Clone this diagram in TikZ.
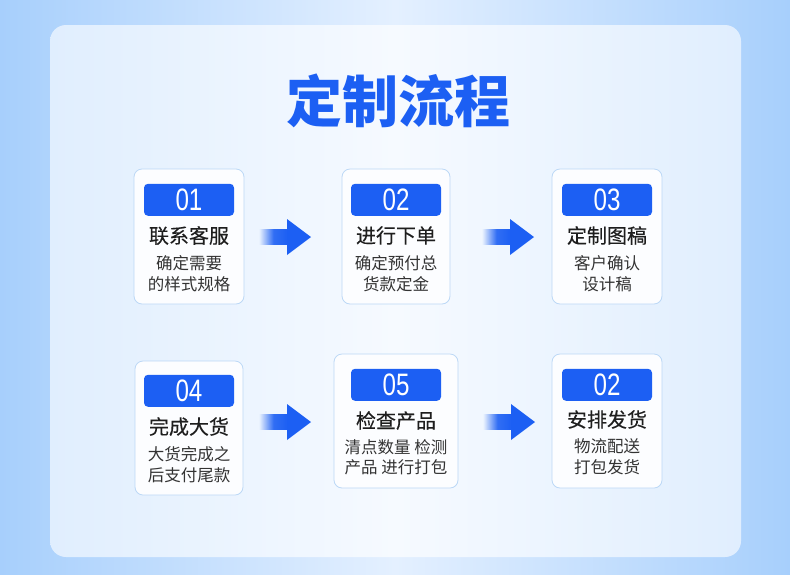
\documentclass[tikz,border=0pt]{standalone}
\usepackage{fontspec}
\newfontfamily\cjk{Noto Sans CJK SC}
\newfontfamily\cjkmid[FakeBold=0.25]{Noto Sans CJK SC}
\newfontfamily\numfont[FakeStretch=0.78]{Liberation Sans}
\usetikzlibrary{positioning,fadings}
\definecolor{bgedge}{HTML}{A7CFFC}
\definecolor{bgmid}{HTML}{E4F0FF}
\definecolor{panelside}{HTML}{E0EEFE}
\definecolor{panelmid}{HTML}{F6FAFF}
\definecolor{cardline}{HTML}{BCD8F6}
\definecolor{cardfill}{HTML}{FCFDFF}
\definecolor{flowblue}{HTML}{1C5FF3}
\definecolor{titleink}{HTML}{1E1E1E}
\definecolor{noteink}{HTML}{333333}
\tikzfading[name=fadein, left color=transparent!100, right color=transparent!0, middle color=transparent!10]
\tikzset{
  card/.style={draw=cardline, fill=cardfill, rounded corners=8pt, line width=0.8pt, minimum width=110pt, minimum height=135pt},
  numbox/.style={fill=flowblue, rounded corners=4pt, minimum width=90pt, minimum height=32pt, inner sep=0pt, text=white, font=\numfont\fontsize{31}{31}\selectfont},
  steptitle/.style={inner sep=0pt, text=titleink, font=\cjkmid\fontsize{20}{22}\selectfont},
  stepnote/.style={inner sep=0pt, text=noteink, align=center, font=\cjk\fontsize{16.5}{21}\selectfont}
}
% arrow between two steps, placed at the base of its head
\newcommand\flowarrow[1]{%
  \fill[flowblue, path fading=fadein, shift={(#1)}] (-28,-8) rectangle (1,8);
  \fill[flowblue, shift={(#1)}] (0,-18) -- (24,0) -- (0,18) -- cycle;}

\begin{document}
\begin{tikzpicture}[x=1pt, y=-1pt]
\shade[left color=bgedge, right color=bgedge, middle color=bgmid] (0,0) rectangle (790,574);
\shade[rounded corners=16pt, left color=panelside, right color=panelside, middle color=panelmid] (50,25) rectangle (741,557);

\node[text=flowblue, font=\cjk\bfseries\fontsize{56}{60}\selectfont] (head) at (398,101) {定制流程};

% first row
\node[card] (card1) at (189,236.5) {};
\node[numbox, below=15pt of card1.north] (num1) {01};
\node[steptitle, below=10pt of num1] (title1) {联系客服};
\node[stepnote, below=10pt of title1] (note1) {确定需要\\的样式规格};

\node[card, minimum width=108pt] (card2) at (396,236.5) {};
\node[numbox, below=15pt of card2.north] (num2) {02};
\node[steptitle, below=10pt of num2] (title2) {进行下单};
\node[stepnote, below=10pt of title2] (note2) {确定预付总\\货款定金};

\node[card] (card3) at (607,236.5) {};
\node[numbox, below=15pt of card3.north] (num3) {03};
\node[steptitle, below=10pt of num3] (title3) {定制图稿};
\node[stepnote, below=10pt of title3] (note3) {客户确认\\设计稿};

% second row
\node[card, minimum width=108pt, minimum height=134pt] (card4) at (189,428) {};
\node[numbox, below=14pt of card4.north] (num4) {04};
\node[steptitle, below=10pt of num4] (title4) {完成大货};
\node[stepnote, below=10pt of title4] (note4) {大货完成之\\后支付尾款};

\node[card, minimum width=124pt, minimum height=134pt] (card5) at (396,421) {};
\node[numbox, below=15pt of card5.north] (num5) {05};
\node[steptitle, below=10pt of num5] (title5) {检查产品};
\node[stepnote, below=9pt of title5, font=\cjk\fontsize{16.5}{20}\selectfont] (note5) {清点数量 检测\\产品 进行打包};

\node[card, minimum height=134pt] (card6) at (607,421) {};
\node[numbox, below=15pt of card6.north] (num6) {02};
\node[steptitle, below=9pt of num6] (title6) {安排发货};
\node[stepnote, below=9pt of title6] (note6) {物流配送\\打包发货};

\coordinate (arr12) at (287,237);
\coordinate (arr23) at (510,237);
\coordinate (arr45) at (287,422);
\coordinate (arr56) at (511,422);
\flowarrow{arr12}
\flowarrow{arr23}
\flowarrow{arr45}
\flowarrow{arr56}
\end{tikzpicture}
\end{document}
